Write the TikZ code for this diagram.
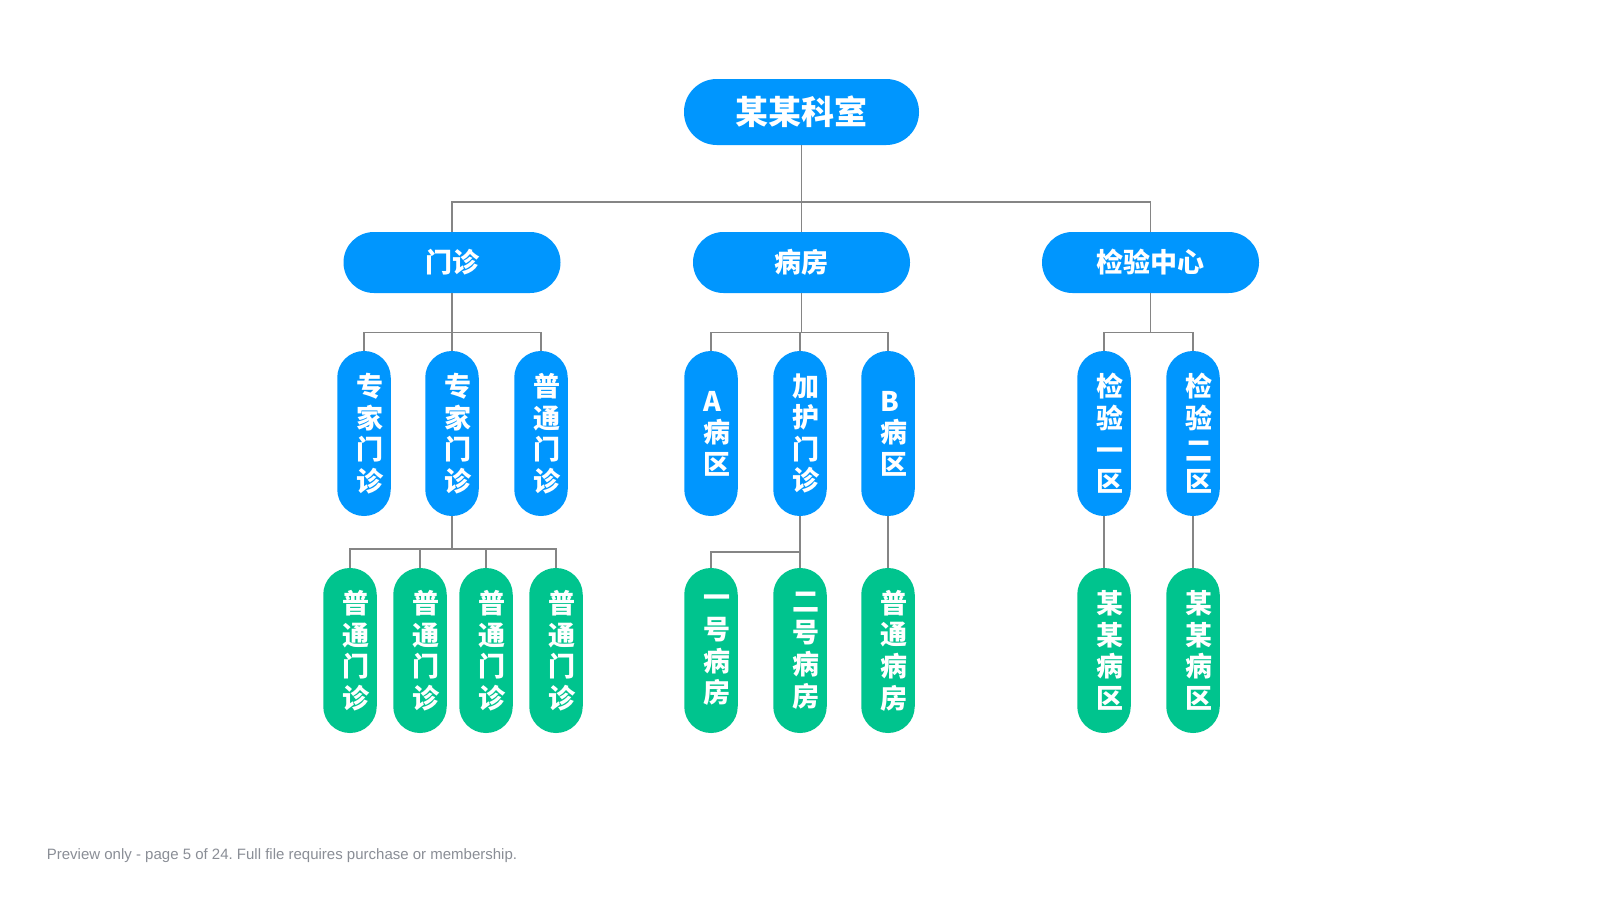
\documentclass[tikz,border=0pt]{standalone}
\usepackage{fontspec}
\setmainfont{Liberation Sans}
\newfontfamily\cjk{Noto Sans CJK SC}
\frenchspacing
\definecolor{orgBlue}{HTML}{0096FE}
\definecolor{orgGreen}{HTML}{00C48E}
\definecolor{orgLine}{HTML}{858585}
\definecolor{orgNote}{HTML}{8A8E96}
\tikzset{
  every node/.style={font=\cjk\bfseries, text=white},
  pill/.style={
    draw=none,
    inner sep=0pt,
    align=center
  },
  headbox/.style={
    pill,
    fill=orgBlue,
    minimum width=117.5pt,
    minimum height=33pt,
    rounded corners=16.4pt,
    font=\cjk\bfseries\fontsize{16.5}{18}\selectfont
  },
  unitbox/.style={
    pill,
    fill=orgBlue,
    minimum width=108.5pt,
    minimum height=30.5pt,
    rounded corners=15.2pt,
    font=\cjk\bfseries\fontsize{13.5}{15}\selectfont
  },
  wardbox/.style={
    pill,
    fill=orgBlue,
    minimum width=26.75pt,
    minimum height=82.5pt,
    rounded corners=13.3pt,
    text width=20pt,
    align=left,
    execute at begin node={\leftskip=6.25pt\relax},
    font=\cjk\bfseries\fontsize{13.5}{15.8}\selectfont
  },
  leafbox/.style={
    wardbox,
    fill=orgGreen
  },
  link/.style={
    draw=orgLine,
    line width=0.55pt
  }
}

\begin{document}
\begin{tikzpicture}[x=0.5pt,y=-0.5pt]
  \useasboundingbox (0,0) rectangle (1601,900);
  \fill[white] (0,0) rectangle (1601,900);

  % top and first level
  \node[headbox] (dept) at (801.5,112) {某某科室};
  \node[unitbox] (clinic) at (452,262.5) {门诊};
  \node[unitbox] (ward) at (801.5,262.5) {病房};
  \node[unitbox] (lab) at (1150.5,262.5) {检验中心};

  % second level
  \node[wardbox] (expA) at (364,433.5) {专\\家\\门\\诊};
  \node[wardbox] (expB) at (452,433.5) {专\\家\\门\\诊};
  \node[wardbox] (genA) at (541,433.5) {普\\通\\门\\诊};
  \node[wardbox] (zoneA) at (711,433.5) {A\\病\\区};
  \node[wardbox] (icu) at (800,433.5) {加\\护\\门\\诊};
  \node[wardbox] (zoneB) at (888,433.5) {B\\病\\区};
  \node[wardbox] (labA) at (1104,433.5) {检\\验\\一\\区};
  \node[wardbox] (labB) at (1193,433.5) {检\\验\\二\\区};

  % third level
  \node[leafbox] (genB) at (350,650.5) {普\\通\\门\\诊};
  \node[leafbox] (genC) at (420,650.5) {普\\通\\门\\诊};
  \node[leafbox] (genD) at (486,650.5) {普\\通\\门\\诊};
  \node[leafbox] (genE) at (556,650.5) {普\\通\\门\\诊};
  \node[leafbox] (roomA) at (711,650.5) {一\\号\\病\\房};
  \node[leafbox] (roomB) at (800,650.5) {二\\号\\病\\房};
  \node[leafbox] (roomC) at (888,650.5) {普\\通\\病\\房};
  \node[leafbox] (areaA) at (1104,650.5) {某\\某\\病\\区};
  \node[leafbox] (areaB) at (1193,650.5) {某\\某\\病\\区};

  % connectors
  \coordinate (busTop) at (0,202);
  \coordinate (busMid) at (0,332.5);
  \coordinate (busExp) at (0,549);
  \coordinate (busIcu) at (0,552);
  \foreach \kid in {clinic,ward,lab}
    \draw[link] (dept.south) -- (dept.south |- busTop) -| (\kid.north);
  \foreach \kid in {expA,expB,genA}
    \draw[link] (clinic.south) -- (clinic.south |- busMid) -| (\kid.north);
  \foreach \kid in {zoneA,icu,zoneB}
    \draw[link] (ward.south) -- (ward.south |- busMid) -| (\kid.north);
  \foreach \kid in {labA,labB}
    \draw[link] (lab.south) -- (lab.south |- busMid) -| (\kid.north);
  \foreach \kid in {genB,genC,genD,genE}
    \draw[link] (expB.south) -- (expB.south |- busExp) -| (\kid.north);
  \foreach \kid in {roomA,roomB}
    \draw[link] (icu.south) -- (icu.south |- busIcu) -| (\kid.north);
  \draw[link] (zoneB) -- (roomC);
  \draw[link] (labA) -- (areaA);
  \draw[link] (labB) -- (areaB);

  \node[font=\fontsize{7.5}{9}\selectfont, text=orgNote, inner sep=0pt, anchor=base west] (note)
    at (46.5,859.5) {Preview only - page 5 of 24. Full file requires purchase or membership.};
\end{tikzpicture}
\end{document}
